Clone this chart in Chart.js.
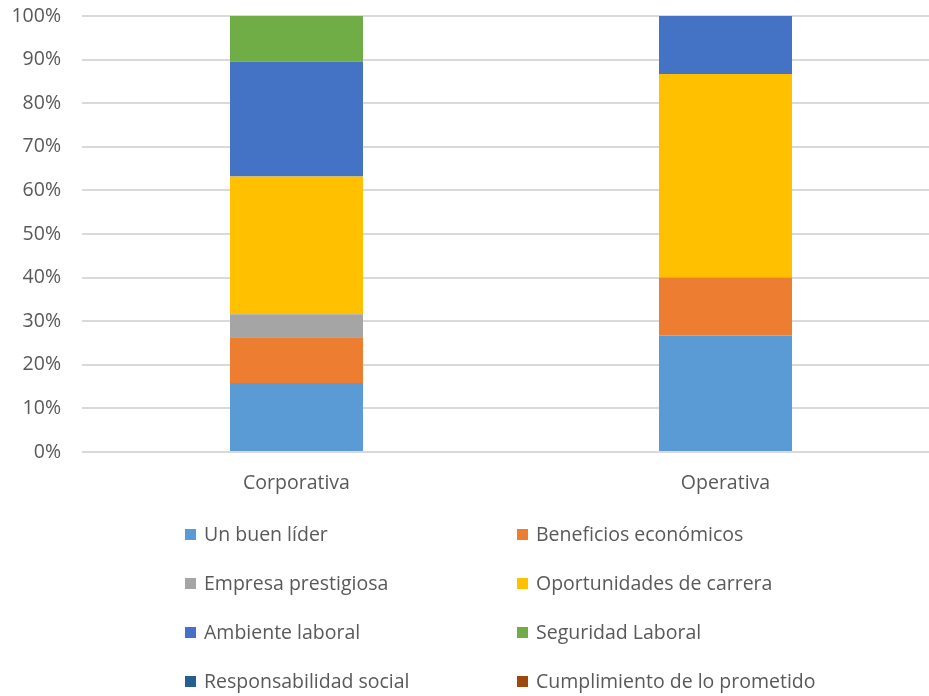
<!DOCTYPE html>
<html>
<head>
<meta charset="utf-8">
<script src="https://cdn.jsdelivr.net/npm/chart.js@4.4.1/dist/chart.umd.min.js"></script>
<style>
    html, body { margin: 0; padding: 0; background: #fff; overflow: hidden; }
    #caja { width: 940px; height: 696px; }
</style>
</head>
<body>
<div id="caja"><canvas id="grafico"></canvas></div>
<script>
// categorias y porcentajes por motivo
const categorias = ["Corporativa", "Operativa"];

const motivos = [
    "Un buen líder",
    "Beneficios económicos",
    "Empresa prestigiosa",
    "Oportunidades de carrera",
    "Ambiente laboral",
    "Seguridad Laboral",
    "Responsabilidad social",
    "Cumplimiento de lo prometido"
];

const colores = ["#5B9BD5", "#ED7D31", "#A5A5A5", "#FFC000", "#4472C4", "#70AD47", "#255E91", "#9E480E"];

const corporativa = [15.8, 10.5, 5.3, 31.6, 26.3, 10.5, 0, 0];
const operativa   = [26.7, 13.3, 0, 46.7, 13.3, 0, 0, 0];

const ticksY = [0, 10, 20, 30, 40, 50, 60, 70, 80, 90, 100];

const fuente = { family: "'Open Sans', sans-serif", size: 19.5 };
const gris = "#595959";

// leyenda en dos columnas debajo del eje
const leyenda = {
    id: "leyendaDosColumnas",
    afterDraw(chart) {
        const c = chart.ctx;
        const colX = [185, 517];
        c.save();
        c.font = fuente.size + "px " + fuente.family;
        c.textBaseline = "middle";
        chart.data.datasets.forEach((ds, i) => {
            const fila = Math.floor(i / 2);
            const x = colX[i % 2];
            const y = 534 + fila * 49;
            c.fillStyle = ds.backgroundColor;
            c.fillRect(x, y - 5, 11, 11);
            c.fillStyle = gris;
            c.fillText(ds.label, x + 19, y + 1);
        });
        c.restore();
    }
};

new Chart(document.getElementById("grafico"), {
    type: "bar",
    data: {
        labels: categorias,
        datasets: motivos.map((m, i) => ({
            label: m,
            data: [corporativa[i], operativa[i]],
            backgroundColor: colores[i],
            borderWidth: 0,
            categoryPercentage: 1,
            barPercentage: 0.31
        }))
    },
    options: {
        responsive: true,
        maintainAspectRatio: false,
        animation: false,
        layout: { padding: 0 },
        plugins: {
            legend: { display: false },
            tooltip: { enabled: false }
        },
        scales: {
            x: {
                stacked: true,
                grid: { display: false },
                border: { display: false },
                ticks: { color: gris, font: fuente, padding: 12 },
                afterFit(s) {
                    s.height = 244;
                    s.paddingLeft = 0;
                    s.paddingRight = 0;
                }
            },
            y: {
                stacked: true,
                min: 0,
                max: 100,
                afterBuildTicks(s) { s.ticks = ticksY.map(v => ({ value: v })); },
                ticks: {
                    color: gris,
                    font: fuente,
                    padding: 21,
                    callback: v => v + "%"
                },
                grid: { color: "#D9D9D9", lineWidth: 2, drawTicks: false },
                border: { display: false },
                afterFit(s) {
                    s.width = 82;
                    s.paddingTop = 16;
                    s.paddingBottom = 0;
                }
            }
        }
    },
    plugins: [leyenda]
});
</script>
</body>
</html>
